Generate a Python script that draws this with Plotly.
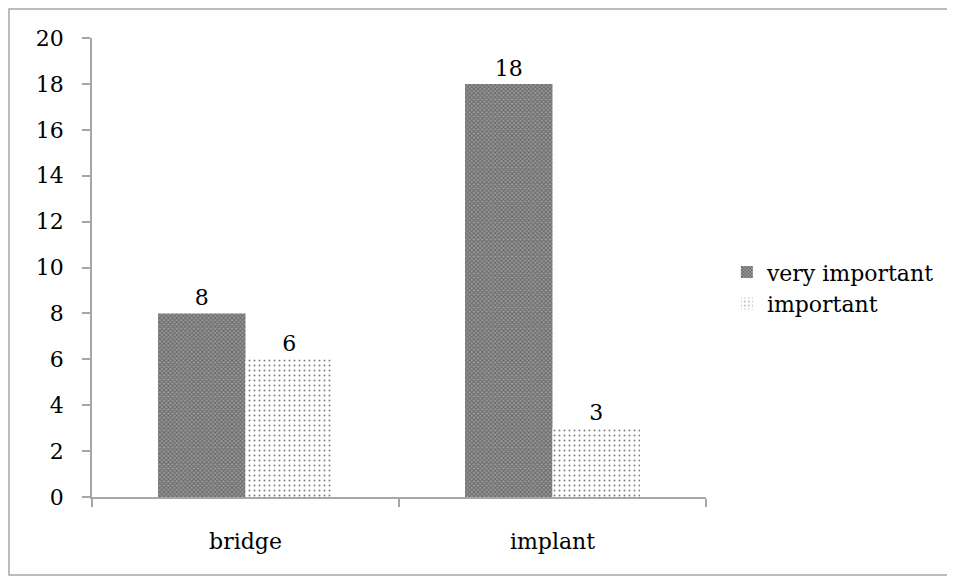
import plotly.graph_objects as go

categories = ["bridge", "implant"]
very_important = [8, 18]
important = [6, 3]
series_names = ["very important", "important"]

FONT = "DejaVu Serif"
FS = 22
fig = go.Figure()
fig.add_trace(go.Bar(
    x=categories, y=very_important, name=series_names[0],
    text=very_important, textposition="outside", cliponaxis=False,
    marker=dict(color="#6e6e6e", line=dict(width=0),
                pattern=dict(shape="x", fgcolor="#333333", bgcolor="#999999", size=3, solidity=0.5)),
))
fig.add_trace(go.Bar(
    x=categories, y=important, name=series_names[1],
    text=important, textposition="outside", cliponaxis=False,
    marker=dict(color="white", line=dict(width=0),
                pattern=dict(shape=".", fgcolor="#000000", bgcolor="white", size=5, solidity=0.12)),
))

# browser body has an 8px margin; figure is offset to compensate
fig.update_layout(
    width=955, height=580,
    margin=dict(l=84, r=257, t=30, b=91),
    paper_bgcolor="white", plot_bgcolor="white",
    font=dict(family=FONT, size=FS, color="black"),
    barmode="group", bargap=0.43, bargroupgap=0,
    showlegend=True,
    legend=dict(x=1.034, y=0.455, xanchor="left", yanchor="middle",
                font=dict(family=FONT, size=FS), itemwidth=30,
                bgcolor="rgba(0,0,0,0)"),
)
fig.update_yaxes(range=[0, 20], dtick=2, showgrid=False, showline=True,
                 linecolor="#a6a6a6", linewidth=1.5, ticks="outside", ticklen=8,
                 tickcolor="#a6a6a6", tickwidth=1.5, ticklabelstandoff=14, zeroline=False,
                 tickfont=dict(family=FONT, size=FS))
fig.update_xaxes(showgrid=False, showline=True, linecolor="#a6a6a6", linewidth=1.5,
                 ticks="outside", ticklen=8, tickcolor="#a6a6a6", tickwidth=1.5,
                 tickson="boundaries", ticklabelstandoff=24,
                 tickfont=dict(family=FONT, size=FS))
fig.update_traces(textfont=dict(family=FONT, size=FS, color="black"))

# outer border of the chart area
fig.add_shape(type="rect", xref="paper", yref="paper",
              x0=(1 - 84) / 614, x1=(942 - 84) / 614,
              y0=(489 - 567) / 459, y1=(489 - 1) / 459,
              line=dict(color="#a6a6a6", width=1.5), fillcolor="rgba(0,0,0,0)", layer="below")

fig.write_html("out.html")
